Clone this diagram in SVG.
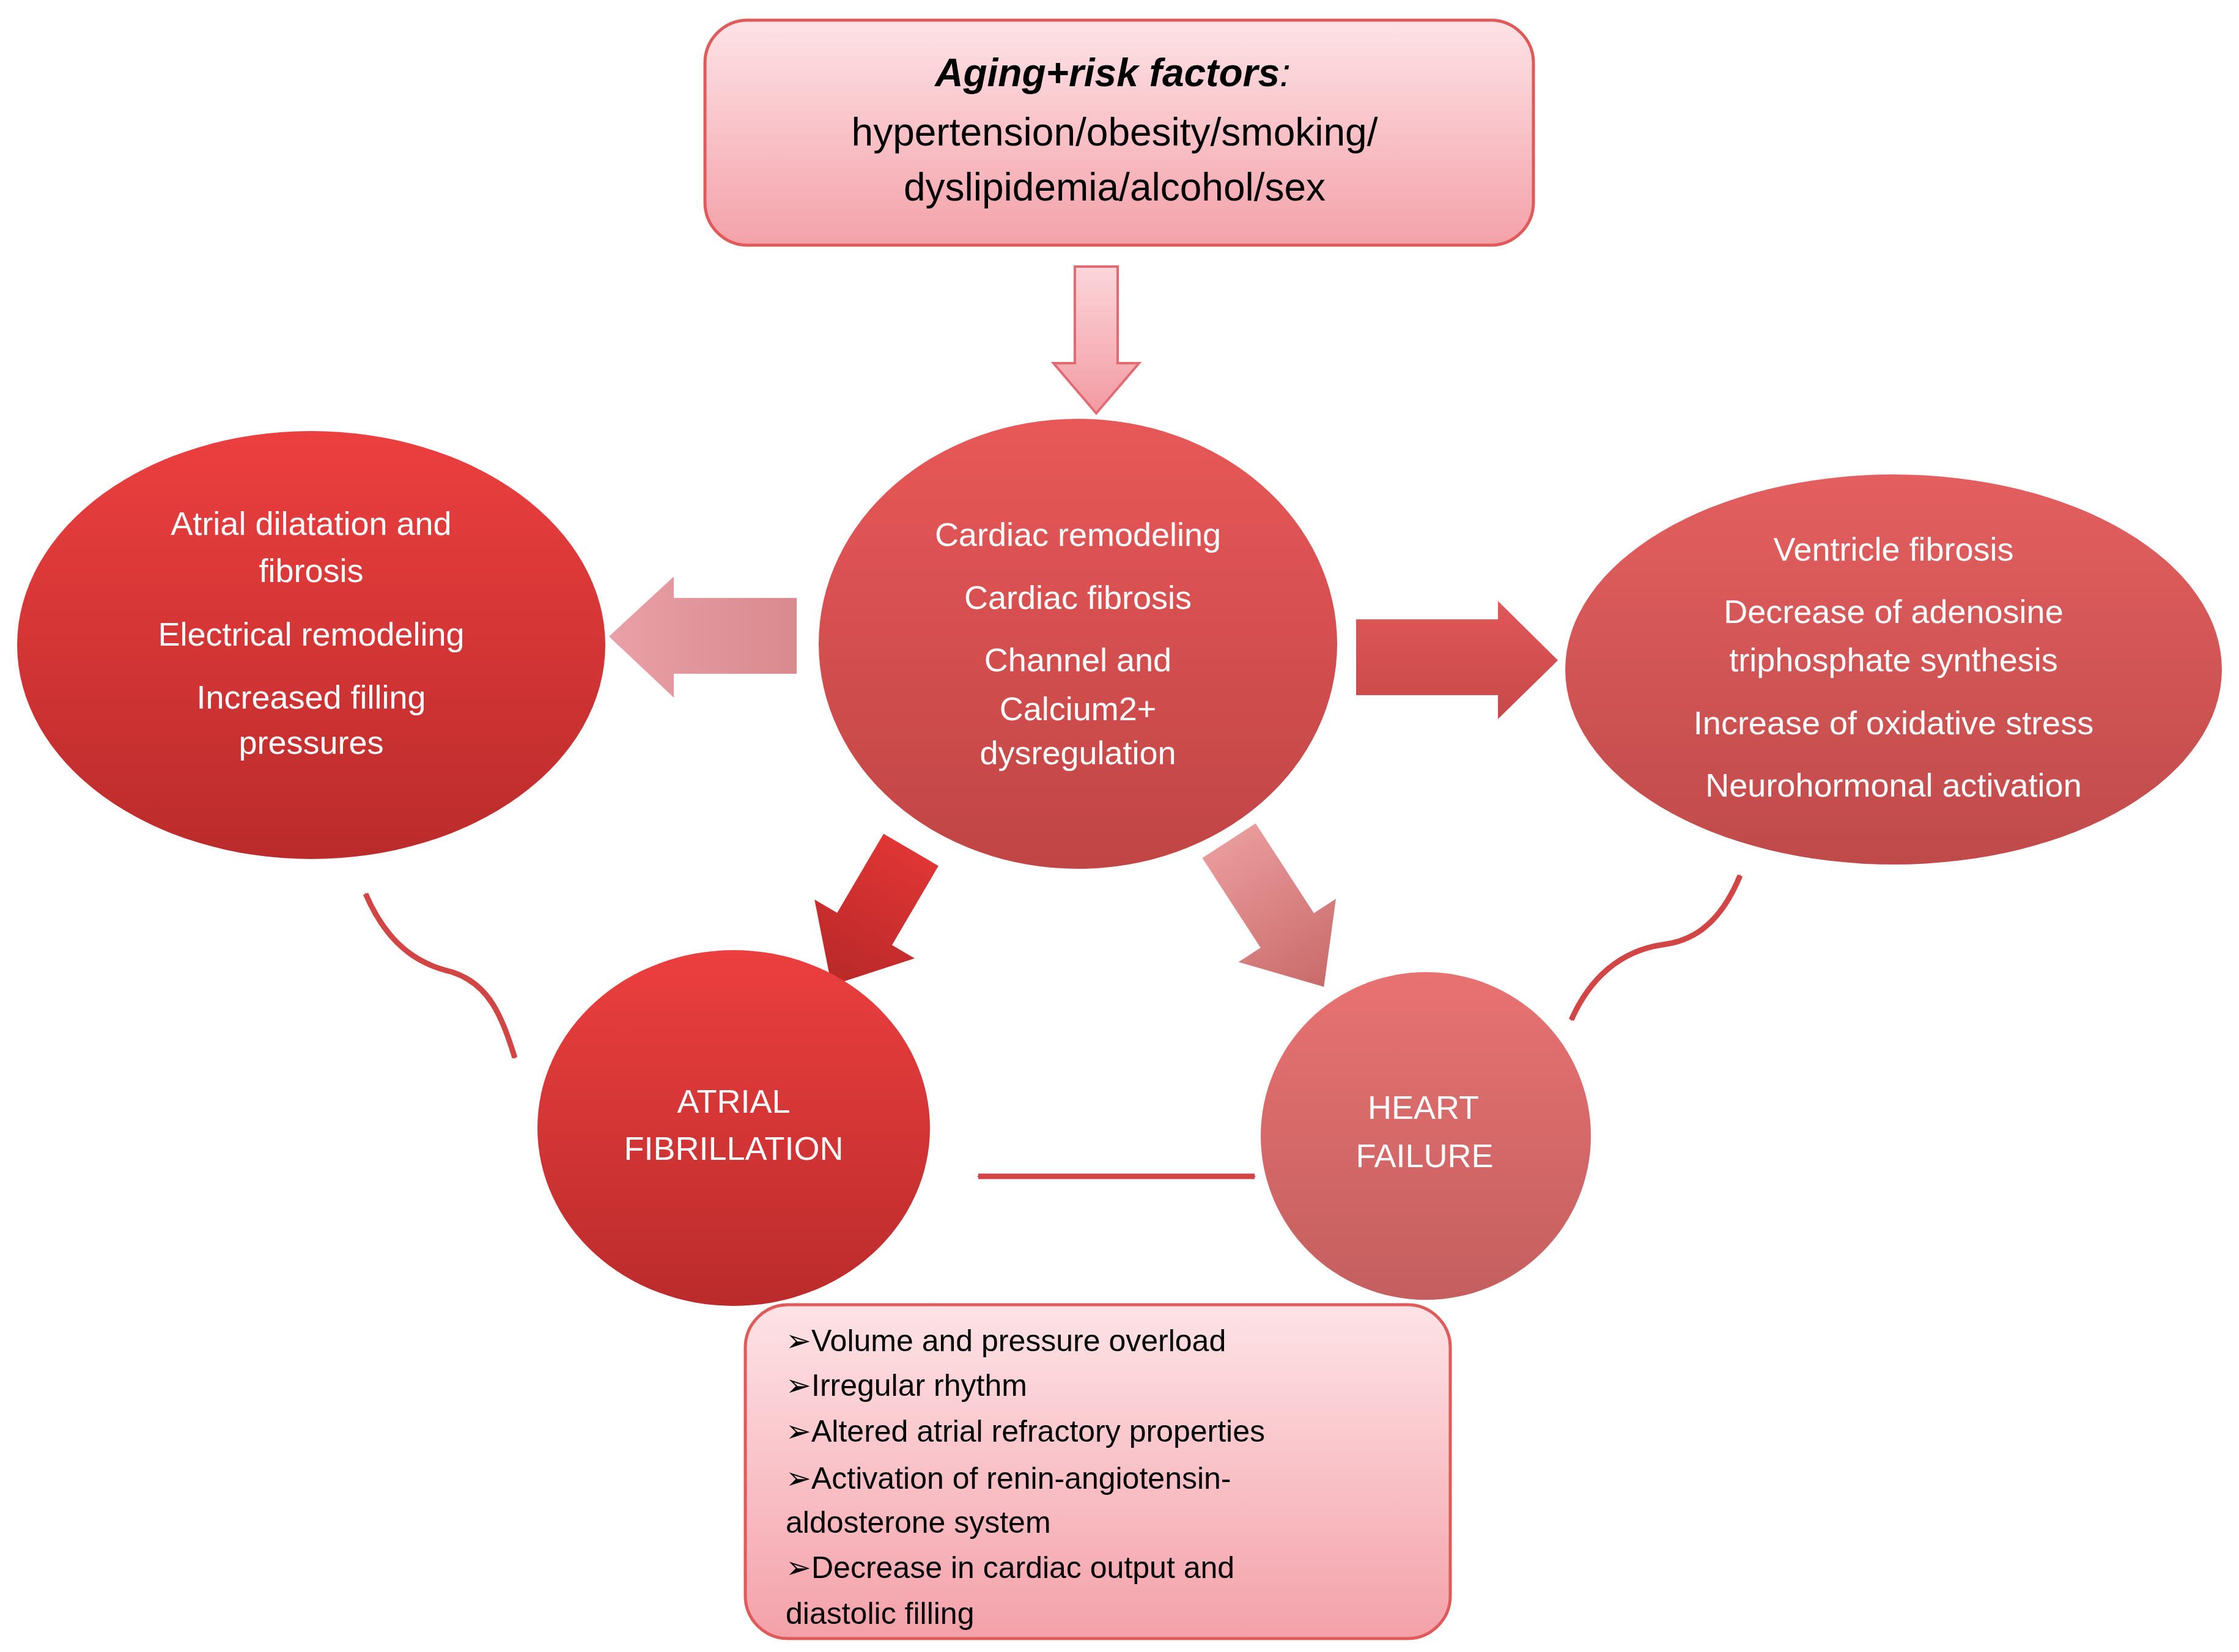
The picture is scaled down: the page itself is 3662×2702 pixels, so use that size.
<svg xmlns="http://www.w3.org/2000/svg" width="3662" height="2702" viewBox="0 0 3662 2702">
<defs>
<linearGradient id="gBox" x1="0" y1="0" x2="0" y2="1"><stop offset="0" stop-color="#fde3e6"/><stop offset="1" stop-color="#f4a1a9"/></linearGradient>
<linearGradient id="gRed" x1="0" y1="0" x2="0" y2="1"><stop offset="0" stop-color="#ec3f3f"/><stop offset="1" stop-color="#bb2b2b"/></linearGradient>
<linearGradient id="gMid" x1="0" y1="0" x2="0" y2="1"><stop offset="0" stop-color="#e85858"/><stop offset="1" stop-color="#c04545"/></linearGradient>
<linearGradient id="gRight" x1="0" y1="0" x2="0" y2="1"><stop offset="0" stop-color="#e45f5f"/><stop offset="1" stop-color="#bf4a4a"/></linearGradient>
<linearGradient id="gHF" x1="0" y1="0" x2="0" y2="1"><stop offset="0" stop-color="#e87272"/><stop offset="1" stop-color="#c45f5f"/></linearGradient>
<linearGradient id="gDown" x1="0" y1="0" x2="0" y2="1"><stop offset="0" stop-color="#fbd6da"/><stop offset="1" stop-color="#f39aa2"/></linearGradient>
<linearGradient id="gLeft" x1="0" y1="0" x2="1" y2="0"><stop offset="0" stop-color="#e9a0a6"/><stop offset="1" stop-color="#d98a8e"/></linearGradient>
<linearGradient id="gRightA" x1="0" y1="0" x2="0" y2="1"><stop offset="0" stop-color="#e05858"/><stop offset="1" stop-color="#c84848"/></linearGradient>
<linearGradient id="gDL" x1="0" y1="0" x2="1" y2="0"><stop offset="0" stop-color="#e03535"/><stop offset="1" stop-color="#b82828"/></linearGradient>
<linearGradient id="gDR" x1="0" y1="0" x2="1" y2="0"><stop offset="0" stop-color="#e99a9a"/><stop offset="1" stop-color="#c96a6a"/></linearGradient>
<marker id="ah" viewBox="0 0 20 20" refX="16" refY="10" markerWidth="7" markerHeight="7" orient="auto-start-reverse" markerUnits="userSpaceOnUse" style="overflow:visible"><path d="M0,0 L18,10 L0,20" fill="none" stroke="#d24545" stroke-width="4"/></marker>
</defs>
<style>
.t{font-family:"Liberation Sans",Arial,sans-serif;fill:#fff;text-anchor:middle;font-size:54px}
.b{font-family:"Liberation Sans",Arial,sans-serif;fill:#000;font-size:50px}
.h{font-family:"Liberation Sans",Arial,sans-serif;fill:#000;text-anchor:middle;font-size:64px}
.c{fill:none;stroke:#d24545;stroke-width:9}
</style>
<rect width="3662" height="2702" fill="#fff"/>
<g id="connectors">
<polygon points="1758,436 1828,436 1828,594 1863,594 1793,676 1723,594 1758,594" fill="url(#gDown)" stroke="#e46a72" stroke-width="4"/>
<polygon points="1303,978 1303,1102 1102,1102 1102,1141 996,1041 1102,943 1102,978" fill="url(#gLeft)"/>
<polygon points="2218,1013 2450,1013 2450,983 2548,1080 2450,1176 2450,1137 2218,1137" fill="url(#gRightA)"/>
<g transform="translate(1490,1390) rotate(120.4)"><polygon points="0,-52 150,-52 150,-95 257,0 150,95 150,52 0,52" fill="url(#gDL)"/></g>
<g transform="translate(2010,1375) rotate(57)"><polygon points="0,-52 175,-52 175,-95 285,0 175,95 175,52 0,52" fill="url(#gDR)"/></g>
<line x1="1600" y1="1924" x2="2052" y2="1924" class="c" marker-start="url(#ah)" marker-end="url(#ah)"/>
<path d="M598,1462 C640,1560 700,1580 740,1590 C800,1610 820,1660 842,1730" class="c" marker-start="url(#ah)" marker-end="url(#ah)"/>
<path d="M2846,1432 C2810,1520 2760,1540 2720,1545 C2650,1555 2600,1600 2570,1668" class="c" marker-start="url(#ah)" marker-end="url(#ah)"/>
</g>
<g id="top">
<rect x="1153" y="33" width="1355" height="368" rx="70" fill="url(#gBox)" stroke="#e05a5a" stroke-width="5"/>
<text class="h" x="1820" y="141" font-weight="bold" font-style="italic">Aging+risk factors<tspan font-weight="normal">:</tspan></text>
<text class="h" x="1823" y="238">hypertension/obesity/smoking/</text>
<text class="h" x="1823" y="328">dyslipidemia/alcohol/sex</text>
</g>
<g id="center">
<ellipse cx="1763" cy="1053" rx="424" ry="368" fill="url(#gMid)"/>
<text class="t" x="1763" y="893">Cardiac remodeling</text>
<text class="t" x="1763" y="996">Cardiac fibrosis</text>
<text class="t" x="1763" y="1098">Channel and</text>
<text class="t" x="1763" y="1178">Calcium2+</text>
<text class="t" x="1763" y="1250">dysregulation</text>
</g>
<g id="left">
<ellipse cx="509" cy="1055" rx="481" ry="350" fill="url(#gRed)"/>
<text class="t" x="509" y="875">Atrial dilatation and</text>
<text class="t" x="509" y="952">fibrosis</text>
<text class="t" x="509" y="1056">Electrical remodeling</text>
<text class="t" x="509" y="1159">Increased filling</text>
<text class="t" x="509" y="1233">pressures</text>
</g>
<g id="right">
<ellipse cx="3097" cy="1095" rx="537" ry="319" fill="url(#gRight)"/>
<text class="t" x="3097" y="917">Ventricle fibrosis</text>
<text class="t" x="3097" y="1019">Decrease of adenosine</text>
<text class="t" x="3097" y="1098">triphosphate synthesis</text>
<text class="t" x="3097" y="1201">Increase of oxidative stress</text>
<text class="t" x="3097" y="1303">Neurohormonal activation</text>
</g>
<g id="af">
<ellipse cx="1200" cy="1845" rx="321" ry="291" fill="url(#gRed)"/>
<text class="t" x="1200" y="1820">ATRIAL</text>
<text class="t" x="1200" y="1897">FIBRILLATION</text>
</g>
<g id="hf">
<ellipse cx="2332" cy="1858" rx="270" ry="268" fill="url(#gHF)"/>
<text class="t" x="2328" y="1830">HEART</text>
<text class="t" x="2330" y="1909">FAILURE</text>
</g>
<g id="bottom">
<rect x="1219" y="2134" width="1153" height="546" rx="70" fill="url(#gBox)" stroke="#e05a5a" stroke-width="5"/>
<text class="b" x="1285" y="2210">➢Volume and pressure overload</text>
<text class="b" x="1285" y="2283">➢Irregular rhythm</text>
<text class="b" x="1285" y="2358">➢Altered atrial refractory properties</text>
<text class="b" x="1285" y="2435">➢Activation of renin-angiotensin-</text>
<text class="b" x="1285" y="2507">aldosterone system</text>
<text class="b" x="1285" y="2581">➢Decrease in cardiac output  and</text>
<text class="b" x="1285" y="2656">diastolic filling</text>
</g>
</svg>
